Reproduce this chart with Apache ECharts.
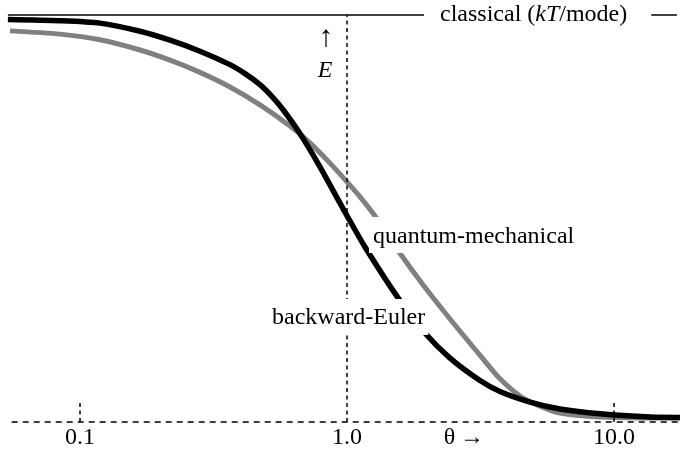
<!DOCTYPE html>
<html>
<head>
<meta charset="utf-8">
<script src="https://cdn.jsdelivr.net/npm/echarts@6/dist/echarts.min.js"></script>
<style>
html,body{margin:0;padding:0;background:#fff;}
#chart{width:680px;height:454px;}
</style>
</head>
<body>
<div id="chart"></div>
<script>
// theta values (log axis) and mean energy per mode (units of kT)
const thetaBE = [0.0537,0.0842,0.1188,0.1678,0.2174,0.2814,0.3645,0.415,0.4722,0.5148,0.5612,0.6386,0.6965,0.7922,0.9413,1.0,1.168,1.553,1.943,2.432,3.149,3.741,4.847,6.278,8.863,13.64,17.67];
const eBE     = [0.989,0.986,0.980,0.960,0.938,0.911,0.878,0.856,0.829,0.805,0.777,0.727,0.689,0.627,0.538,0.507,0.430,0.305,0.221,0.157,0.102,0.075,0.049,0.032,0.020,0.012,0.011];
const thetaQM = [0.0547,0.0842,0.1188,0.1678,0.2174,0.2814,0.3645,0.4722,0.6116,0.7267,0.8636,1.0,1.119,1.273,1.539,1.926,2.432,3.232,3.741,4.445,5.283,6.278,8.863,12.51,17.67];
const eQM     = [0.961,0.953,0.939,0.914,0.889,0.859,0.823,0.779,0.727,0.686,0.636,0.590,0.553,0.506,0.425,0.337,0.253,0.155,0.106,0.064,0.039,0.022,0.012,0.010,0.010];
const tickValues = [0.1, 1, 10];
const tickLabels = ['0.1', '1.0', '10.0'];
const classicalE = 1;
const xMin = 0.05017, xMax = 17.67;

const FONT = '"Liberation Serif", "Times New Roman", serif';
const chart = echarts.init(document.getElementById('chart'), null, {renderer:'canvas'});

const zip = (a, b) => a.map((v, i) => [v, b[i]]);

const refLines = [
  // classical level
  [{coord:[0.0537, classicalE], lineStyle:{type:'solid', width:1.5}}, {coord:[17.2, classicalE]}],
  // baseline
  [{coord:[0.0555, 0], lineStyle:{type:[6,5], width:1.5}}, {coord:[xMax, 0]}],
  // vertical at theta=1
  [{coord:[tickValues[1], 0], lineStyle:{type:[4,3.5], width:1.5}}, {coord:[tickValues[1], classicalE]}],
  // short ticks
  [{coord:[tickValues[0], 0], lineStyle:{type:[4,3.5], width:1.5}}, {coord:[tickValues[0], 0.05]}],
  [{coord:[tickValues[2], 0], lineStyle:{type:[4,3.5], width:1.5}}, {coord:[tickValues[2], 0.052]}]
];

chart.setOption({
  animation:false,
  backgroundColor:'#fff',
  grid:{left:0, right:0, top:15, bottom:32},
  xAxis:{type:'log', logBase:10, min:xMin, max:xMax,
    axisLine:{show:false}, axisTick:{show:false}, axisLabel:{show:false}, splitLine:{show:false}},
  yAxis:{type:'value', min:0, max:1, show:false, splitLine:{show:false}},
  series:[
    {type:'line', name:'ref', data:[], silent:true, z:1,
      markLine:{silent:true, symbol:'none', label:{show:false}, animation:false,
        lineStyle:{color:'#000', width:1.5}, data:refLines}},
    {type:'line', name:'quantum-mechanical', data:zip(thetaQM, eQM), smooth:0.25,
      showSymbol:false, clip:false, z:3,
      lineStyle:{color:'#808080', width:5, cap:'butt'}},
    {type:'line', name:'backward-Euler', data:zip(thetaBE, eBE), smooth:0.25,
      showSymbol:false, clip:false, z:4,
      lineStyle:{color:'#000', width:5.5, cap:'butt'}}
  ]
});

// tick labels placed through the axis scale
const graphics = [];
tickValues.forEach((t, i) => {
  const p = chart.convertToPixel({gridIndex:0}, [t, 0]);
  graphics.push({type:'text', x:p[0], y:p[1] + 16, z:100,
    style:{text:tickLabels[i], font:'24px ' + FONT, fill:'#000', align:'center', verticalAlign:'middle'}});
});
const pTheta = chart.convertToPixel({gridIndex:0}, [2.74, 0]);
graphics.push({type:'text', x:pTheta[0], y:pTheta[1] + 16, z:100,
  style:{text:'θ\u2009→', font:'24px ' + FONT, fill:'#000', align:'center', verticalAlign:'middle'}});

graphics.push({type:'text', x:326, y:38, z:100,
  style:{text:'↑', font:'30px ' + FONT, fill:'#000', align:'center', verticalAlign:'middle'}});
graphics.push({type:'text', x:325, y:71, z:100,
  style:{text:'E', font:'italic 24px ' + FONT, fill:'#000', align:'center', verticalAlign:'middle'}});

graphics.push({type:'text', x:424, y:15, z:100,
  style:{text:'classical ({i|kT}/mode)', font:'24px ' + FONT, fill:'#000',
    verticalAlign:'middle', backgroundColor:'#fff', padding:[2,24,2,16],
    rich:{i:{fontStyle:'italic', fontSize:24, fontFamily:FONT}}}});
graphics.push({type:'text', x:369, y:217, z:100,
  style:{text:'quantum-mechanical', font:'24px ' + FONT, fill:'#000',
    verticalAlign:'top', backgroundColor:'#fff', padding:[8,4,4,4]}});
graphics.push({type:'text', x:268, y:299, z:100,
  style:{text:'backward-Euler', font:'24px ' + FONT, fill:'#000',
    verticalAlign:'top', backgroundColor:'#fff', padding:[7,3,5,4]}});

chart.setOption({graphic:graphics});
</script>
</body>
</html>
